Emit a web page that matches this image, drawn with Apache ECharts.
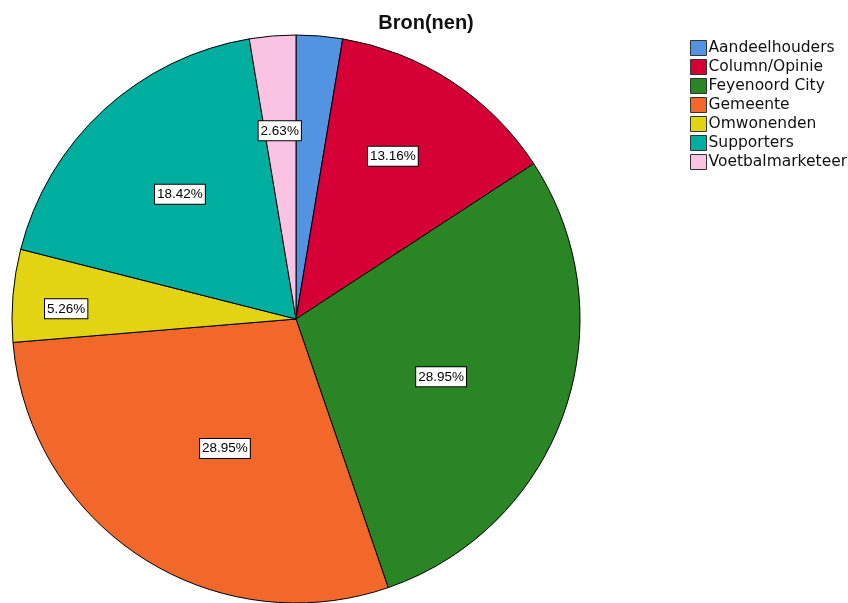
<!DOCTYPE html>
<html>
<head>
<meta charset="utf-8">
<script src="https://cdn.jsdelivr.net/npm/echarts@6/dist/echarts.min.js"></script>
<style>
  html, body { margin: 0; padding: 0; background: #fff; }
  #pie-chart { width: 848px; height: 603px; }
</style>
</head>
<body>
<div id="pie-chart"></div>
<script>
const categories = ['Aandeelhouders', 'Column/Opinie', 'Feyenoord City', 'Gemeente', 'Omwonenden', 'Supporters', 'Voetbalmarketeer'];
const counts = [1, 5, 11, 11, 2, 7, 1];
const percentLabels = ['', '13.16%', '28.95%', '28.95%', '5.26%', '18.42%', '2.63%'];

const sliceColors = ['#5294e2', '#d40036', '#2a8524', '#f2672a', '#e2d412', '#00aea0', '#fbc3e3'];
// where SPSS put each label: fraction of the radius, and a small turn (degrees, clockwise)
const labelRadius = [0.5, 0.667, 0.55, 0.52, 0.81, 0.6, 0.665];
const labelTurn = [0, -2.4, 2.8, -4.4, -2.2, -0.3, -0.2];

const center = [296, 319];
const radius = 284;

document.addEventListener('DOMContentLoaded', () => {
  const chart = echarts.init(document.getElementById('pie-chart'));

  const data = categories.map((name, i) => ({
    name,
    value: counts[i],
    itemStyle: { color: sliceColors[i] },
    label: { show: percentLabels[i] !== '' }
  }));

  chart.setOption({
    animation: false,
    title: {
      text: 'Bron(nen)',
      left: 421,
      textAlign: 'center',
      top: 8,
      textStyle: { fontFamily: 'Liberation Sans', fontWeight: 'bold', fontSize: 20, color: '#111' }
    },
    legend: {
      orient: 'vertical',
      left: 685,
      top: 35,
      itemWidth: 16,
      itemHeight: 15,
      itemGap: 3,
      icon: 'rect',
      itemStyle: { borderColor: '#333', borderWidth: 1 },
      textStyle: {
        fontFamily: 'DejaVu Sans',
        fontSize: 15.5,
        lineHeight: 15,
        color: '#111',
        padding: [0, 0, 0, -3]
      },
      data: categories
    },
    series: [
      {
        type: 'pie',
        center,
        radius,
        startAngle: 90,
        clockwise: true,
        data,
        itemStyle: { borderColor: '#000', borderWidth: 1 },
        emphasis: { disabled: true },
        label: {
          position: 'inside',
          formatter: p => percentLabels[p.dataIndex],
          fontFamily: 'Liberation Sans',
          fontSize: 13.5,
          color: '#000',
          backgroundColor: '#fff',
          borderColor: '#000',
          borderWidth: 1,
          padding: [3, 2, 2, 2]
        },
        labelLayout: p => {
          const r = p.labelRect;
          const cx = r.x + r.width / 2 - center[0];
          const cy = r.y + r.height / 2 - center[1];
          const angle = Math.atan2(cy, cx) + labelTurn[p.dataIndex] * Math.PI / 180;
          const target = labelRadius[p.dataIndex] * radius;
          return {
            dx: center[0] + Math.cos(angle) * target - (cx + center[0]),
            dy: center[1] + Math.sin(angle) * target - (cy + center[1])
          };
        }
      }
    ]
  });
});
</script>
</body>
</html>
